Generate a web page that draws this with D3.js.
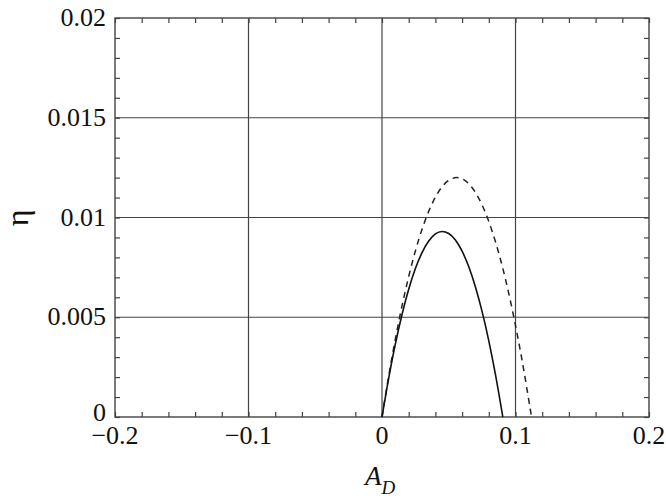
<!DOCTYPE html>
<html><head><meta charset="utf-8">
<script src="https://cdn.jsdelivr.net/npm/d3@7"></script>
<style>body{margin:0;background:#fff}</style>
</head><body><svg id="c" width="666" height="503"></svg>
<script>
const xTicks = [-0.2, -0.1, 0, 0.1, 0.2];
const xTickLabels = ["\u22120.2", "\u22120.1", "0", "0.1", "0.2"];
const yTicks = [0, 0.005, 0.01, 0.015, 0.02];
const yTickLabels = ["0", "0.005", "0.01", "0.015", "0.02"];
const solidX = [0, 0.005, 0.01, 0.015, 0.02, 0.025, 0.03, 0.035, 0.04, 0.045, 0.05, 0.055, 0.06, 0.065, 0.07, 0.075, 0.08, 0.085, 0.0905];
const solidY = [0, 0.00194, 0.00366, 0.00514, 0.0064, 0.00744, 0.00824, 0.00882, 0.00918, 0.0093, 0.0092, 0.00887, 0.00831, 0.00753, 0.00652, 0.00528, 0.00382, 0.00212, 0];
const dashX = [0, 0.005, 0.01, 0.015, 0.02, 0.025, 0.03, 0.035, 0.04, 0.045, 0.05, 0.056, 0.06, 0.065, 0.07, 0.075, 0.08, 0.085, 0.09, 0.095, 0.1, 0.105, 0.112];
const dashY = [0, 0.00205, 0.0039, 0.00557, 0.00704, 0.00832, 0.00941, 0.01031, 0.01102, 0.01154, 0.01186, 0.012, 0.01194, 0.01169, 0.01125, 0.01062, 0.0098, 0.00878, 0.00758, 0.00618, 0.00459, 0.00281, 0];

const FONT = "Liberation Serif, Times New Roman, Times, Tinos, Noto Serif, DejaVu Serif, FreeSerif, serif";
const svg = d3.select("#c");
const L = 115, R = 649, T = 18, B = 417;
const x = d3.scaleLinear().domain([-0.2, 0.2]).range([L, R]);
const y = d3.scaleLinear().domain([0, 0.02]).range([B, T]);
const ax = "#444";

// grid
const g = svg.append("g");
g.selectAll(".gx").data(xTicks.slice(1, -1)).enter().append("line")
  .attr("x1", d => x(d)).attr("x2", d => x(d)).attr("y1", T).attr("y2", B)
  .attr("stroke", ax).attr("stroke-width", 1.2);
g.selectAll(".gy").data(yTicks.slice(1, -1)).enter().append("line")
  .attr("y1", d => y(d)).attr("y2", d => y(d)).attr("x1", L).attr("x2", R)
  .attr("stroke", ax).attr("stroke-width", 1.2);

// minor ticks inward on all sides
const xMinor = d3.range(-0.2, 0.2001, 0.02);
const yMinor = d3.range(0, 0.02001, 0.001);
const tl = 5;
svg.append("g").attr("transform", `translate(0,${B})`)
  .call(d3.axisTop(x).tickValues(xMinor).tickSize(tl).tickFormat("")).call(s => s.select(".domain").remove());
svg.append("g").attr("transform", `translate(0,${T})`)
  .call(d3.axisBottom(x).tickValues(xMinor).tickSize(tl).tickFormat("")).call(s => s.select(".domain").remove());
svg.append("g").attr("transform", `translate(${L},0)`)
  .call(d3.axisRight(y).tickValues(yMinor).tickSize(tl).tickFormat("")).call(s => s.select(".domain").remove());
svg.append("g").attr("transform", `translate(${R},0)`)
  .call(d3.axisLeft(y).tickValues(yMinor).tickSize(tl).tickFormat("")).call(s => s.select(".domain").remove());
svg.selectAll(".tick line").attr("stroke", ax).attr("stroke-width", 1.2);

// frame
svg.append("rect").attr("x", L).attr("y", T).attr("width", R - L).attr("height", B - T)
  .attr("fill", "none").attr("stroke", ax).attr("stroke-width", 1.4);

// tick labels
svg.selectAll(".xl").data(xTicks).enter().append("text")
  .style("font-family", FONT).attr("fill", "#111")
  .attr("x", d => x(d)).attr("y", B + 27).attr("text-anchor", "middle")
  .attr("font-size", 26).text((d, i) => xTickLabels[i]);
svg.selectAll(".yl").data(yTicks).enter().append("text")
  .style("font-family", FONT).attr("fill", "#111")
  .attr("x", L - 9).attr("y", (d, i) => y(d) + (i === 0 ? 4 : 8)).attr("text-anchor", "end")
  .attr("font-size", 26).text((d, i) => yTickLabels[i]);

// curves
const line = d3.line().x(d => x(d[0])).y(d => y(d[1])).curve(d3.curveMonotoneX);
svg.append("path").datum(dashX.map((v, i) => [v, dashY[i]])).attr("d", line)
  .attr("fill", "none").attr("stroke", "#222").attr("stroke-width", 1.5).attr("stroke-dasharray", "6,5");
svg.append("path").datum(solidX.map((v, i) => [v, solidY[i]])).attr("d", line)
  .attr("fill", "none").attr("stroke", "#111").attr("stroke-width", 1.6);

// axis labels
const xl = svg.append("text").style("font-family", FONT).attr("fill", "#111")
  .attr("x", 365).attr("y", 485).attr("font-size", 27).attr("font-style", "italic");
xl.append("tspan").text("A");
xl.append("tspan").attr("font-size", 19).attr("dy", 9).text("D");
svg.append("text").style("font-family", FONT).attr("fill", "#111")
  .attr("transform", "translate(28,218) rotate(-90)")
  .attr("text-anchor", "middle").attr("font-size", 32).text("η");
</script></body></html>
